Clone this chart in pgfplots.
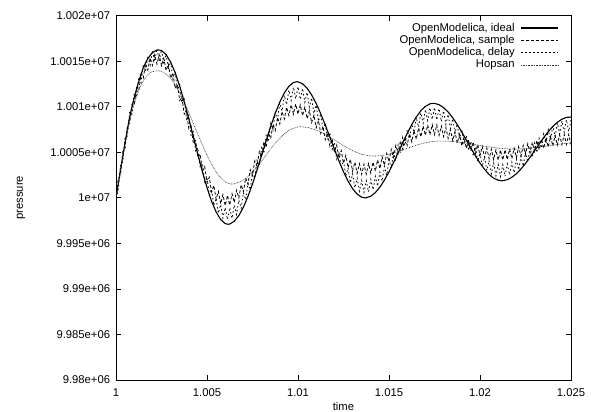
\documentclass[border=0pt]{standalone}
\usepackage{fontspec}
\setmainfont{Liberation Sans}
\usepackage{pgfplots}
\pgfplotsset{compat=1.18}
% time in ms after t = 1 s, pressure as offset from 1e7 Pa
\begin{document}
\fontsize{11.3}{13}\selectfont
\begin{tikzpicture}
\useasboundingbox (0,0) rectangle (591bp,412bp);
\begin{axis}[
  at={(116bp,32bp)}, anchor=south west,
  scale only axis, width=455bp, height=364.3bp,
  xmin=0, xmax=25, ymin=-20000, ymax=20000,
  xtick={0,5,10,15,20,25},
  xticklabels={1,1.005,1.01,1.015,1.02,1.025},
  ytick={-20000,-15000,-10000,-5000,0,5000,10000,15000,20000},
  yticklabels={9.98e+06,9.985e+06,9.99e+06,9.995e+06,1e+07,1.0005e+07,1.001e+07,1.0015e+07,1.002e+07},
  tick align=inside, major tick length=5bp,
  axis line style={line width=0.9bp},
  every tick/.style={black, line width=0.8bp},
  xticklabel style={yshift=-5bp},
  yticklabel style={xshift=-2bp},
  scaled ticks=false,
  xlabel={time}, ylabel={pressure},
  xlabel style={at={(axis description cs:0.5,-0.0714)}, anchor=center},
  ylabel style={at={(axis description cs:-0.2088,0.5)}, anchor=center},
  legend style={draw=none, fill=none, at={(axis description cs:1,1)}, xshift=-12bp, yshift=-6bp, anchor=north east, row sep=0pt, inner sep=0pt, nodes={inner ysep=0.65bp, text height=8.5bp, text depth=2.5bp}},
  legend cell align=right,
  legend plot pos=right,
  legend image code/.code={\path (0bp,0bp); \draw[#1] (4bp,0bp) -- (41bp,0bp);},
]
% OpenModelica, ideal
\addplot[black, line width=1.1bp] table {
0 0
0.25 3100
0.5 6100
0.75 8900
1 11000
1.25 12800
1.5 14300
1.75 15300
2 15950
2.25 16220
2.36 16234
2.5 16170
2.75 15738
3 14919
3.25 13745
3.5 12270
3.75 10555
4 8674
4.25 6707
4.5 4736
4.75 2851
5 1128
5.25 -361
5.5 -1544
5.75 -2379
6 -2826
6.15 -2900
6.25 -2873
6.5 -2571
6.75 -1947
7 -1027
7.25 149
7.5 1531
7.75 3057
8 4665
8.25 6283
8.5 7844
8.75 9278
9 10525
9.25 11532
9.5 12255
9.75 12662
9.93 12750
10 12739
10.25 12522
10.5 12037
10.75 11303
11 10356
11.25 9234
11.5 7987
11.75 6669
12 5338
12.25 4053
12.5 2869
12.75 1839
13 1007
13.25 409
13.5 72
13.68 0
13.75 9
14 185
14.25 581
14.5 1178
14.75 1949
15 2863
15.25 3878
15.5 4951
15.75 6034
16 7080
16.25 8044
16.5 8883
16.75 9560
17 10047
17.25 10321
17.43 10380
17.5 10373
17.75 10229
18 9907
18.25 9420
18.5 8791
18.75 8047
19 7218
19.25 6343
19.5 5458
19.75 4603
20 3813
20.25 3125
20.5 2567
20.75 2164
21 1934
21.19 1880
21.25 1885
21.5 1997
21.75 2256
22 2652
22.25 3166
22.5 3775
22.75 4455
23 5176
23.25 5905
23.5 6611
23.75 7264
24 7835
24.25 8298
24.5 8636
24.75 8831
25 8877
};
\addlegendentry{OpenModelica, ideal}
% OpenModelica, sample
\addplot[black, line width=0.8bp, dash pattern=on 3bp off 2bp] table {
0 0
0.125 2090
0.25 2529
0.375 5098
0.5 5467
0.625 7918
0.75 8169
0.875 10261
1 10152
1.125 12084
1.25 11816
1.375 13592
1.5 13168
1.625 14696
1.75 14024
1.875 15380
2 14536
2.125 15709
2.25 14681
2.375 15696
2.5 14510
2.625 15348
2.75 13986
2.875 14667
3 13147
3.125 13687
3.25 12027
3.375 12456
3.5 10685
3.625 11034
3.75 9182
3.875 9485
4 7587
4.125 7882
4.25 5976
4.375 6295
4.5 4413
4.625 4790
4.75 2967
4.875 3431
5 1695
5.125 2272
5.25 648
5.375 1354
5.5 -140
5.625 707
5.75 -647
5.875 348
6 -857
6.125 274
6.25 -795
6.375 448
6.5 -509
6.625 841
6.75 -10
6.875 1430
7 669
7.125 2189
7.25 1509
7.375 3084
7.5 2458
7.625 4070
7.75 3481
7.875 5105
8 4528
8.125 6141
8.25 5553
8.375 7134
8.5 6515
8.625 8045
8.75 7375
8.875 8835
9 8094
9.125 9472
9.25 8649
9.375 9938
9.5 9026
9.625 10215
9.75 9203
9.875 10297
10 9191
10.125 10206
10.25 9021
10.375 9960
10.5 8699
10.625 9577
10.75 8255
10.875 9081
11 7706
11.125 8490
11.25 7074
11.375 7835
11.5 6396
11.625 7148
11.75 5699
11.875 6457
12 5015
12.125 5794
12.25 4373
12.375 5186
12.5 3799
12.625 4660
12.75 3321
12.875 4235
13 2949
13.125 3925
13.25 2700
13.375 3743
13.5 2586
13.625 3692
13.75 2598
13.875 3755
14 2712
14.125 3917
14.25 2922
14.375 4169
14.5 3216
14.625 4498
14.75 3579
14.875 4886
15 3993
15.125 5316
15.25 4439
15.375 5768
15.5 4897
15.625 6222
15.75 5346
15.875 6657
16 5767
16.125 7055
16.25 6143
16.375 7401
16.5 6459
16.625 7680
16.75 6701
16.875 7883
17 6864
17.125 8003
17.25 6941
17.375 8037
17.5 6933
17.625 7993
17.75 6853
17.875 7883
18 6712
18.125 7715
18.25 6517
18.375 7498
18.5 6279
18.625 7244
18.75 6009
18.875 6965
19 5721
19.125 6674
19.25 5427
19.375 6384
19.5 5141
19.625 6108
19.75 4874
19.875 5856
20 4638
20.125 5639
20.25 4439
20.375 5465
20.5 4290
20.625 5341
20.75 4192
20.875 5270
21 4148
21.125 5253
21.25 4158
21.375 5283
21.5 4208
21.625 5354
21.75 4300
21.875 5461
22 4422
22.125 5596
22.25 4570
22.375 5755
22.5 4740
22.625 5929
22.75 4918
22.875 6109
23 5099
23.125 6287
23.25 5275
23.375 6457
23.5 5438
23.625 6610
23.75 5581
23.875 6741
24 5700
24.125 6845
24.25 5790
24.375 6918
24.5 5846
24.625 6959
24.75 5871
24.875 6968
25 5865
};
\addlegendentry{OpenModelica, sample}
% OpenModelica, delay
\addplot[black, line width=0.8bp, dash pattern=on 1.5bp off 2.5bp] table {
0 0
0.125 895
0.25 3739
0.375 3924
0.5 6709
0.625 6784
0.75 9459
0.875 9180
1 11500
1.125 11067
1.25 13234
1.375 12647
1.5 14660
1.625 13824
1.75 15587
1.875 14578
2 16168
2.125 14972
2.25 16375
2.375 15023
2.5 16270
2.625 14741
2.75 15812
2.875 14099
3 14985
3.125 13116
3.25 13847
3.375 11844
3.5 12441
3.625 10335
3.75 10829
3.875 8655
4 9080
4.125 6878
4.25 7275
4.375 5081
4.5 5487
4.625 3342
4.75 3796
4.875 1735
5 2273
5.125 323
5.25 973
5.375 -835
5.5 -42
5.625 -1687
5.75 -731
5.875 -2206
6 -1080
6.125 -2384
6.25 -1087
6.375 -2243
6.5 -799
6.625 -1821
6.75 -243
6.875 -1136
7 572
7.125 -213
7.25 1601
7.375 899
7.5 2796
7.625 2153
7.75 4110
7.875 3498
8 5485
8.125 4873
8.25 6860
8.375 6219
8.5 8177
8.625 7478
8.75 9378
8.875 8599
9 10419
9.125 9534
9.25 11248
9.375 10244
9.5 11840
9.625 10700
9.75 12159
9.875 10881
10 12202
10.125 10806
10.25 12009
10.375 10499
10.5 11589
10.625 9979
10.75 10968
10.875 9275
11 10181
11.125 8417
11.25 9252
11.375 7440
11.5 8228
11.625 6392
11.75 7155
11.875 5316
12 6077
12.125 4261
12.25 5044
12.375 3270
12.5 4096
12.625 2389
12.75 3281
12.875 1656
13 2630
13.125 1097
13.25 2164
13.375 739
13.5 1913
13.625 597
13.75 1881
13.875 656
14 2031
14.125 892
14.25 2353
14.375 1292
14.5 2831
14.625 1837
14.75 3442
14.875 2502
15 4162
15.125 3260
15.25 4957
15.375 4075
15.5 5792
15.625 4912
15.75 6631
15.875 5734
16 7437
16.125 6507
16.25 8176
16.375 7196
16.5 8815
16.625 7771
16.75 9326
16.875 8208
17 9690
17.125 8490
17.25 9890
17.375 8606
17.5 9921
17.625 8562
17.75 9803
17.875 8375
18 9547
18.125 8058
18.25 9169
18.375 7630
18.5 8690
18.625 7108
18.75 8126
18.875 6515
19 7504
19.125 5878
19.25 6852
19.375 5225
19.5 6198
19.625 4584
19.75 5570
19.875 3982
20 4994
20.125 3446
20.25 4497
20.375 2999
20.5 4100
20.625 2657
20.75 3814
20.875 2437
21 3659
21.125 2345
21.25 3631
21.375 2375
21.5 3719
21.625 2514
21.75 3909
21.875 2753
22 4196
22.125 3083
22.25 4569
22.375 3488
22.5 5006
22.625 3949
22.75 5492
22.875 4449
23 6006
23.125 4965
23.25 6524
23.375 5474
23.5 7024
23.625 5955
23.75 7485
23.875 6385
24 7885
24.125 6747
24.25 8209
24.375 7027
24.5 8444
24.625 7210
24.75 8575
24.875 7290
25 8604
};
\addlegendentry{OpenModelica, delay}
% Hopsan
\addplot[black!80, line width=0.6bp, dash pattern=on 0.8bp off 0.8bp, smooth, tension=0.5] table {
0 0
0.25 3000
0.5 5900
0.75 8400
1 10300
1.25 11800
1.5 12850
1.75 13500
2 13850
2.32 13956
2.5 13896
3 13107
3.5 11517
4 9362
4.5 6964
5 4682
5.5 2856
6 1757
6.36 1515
6.5 1537
7 1956
7.5 2844
8 4046
8.5 5354
9 6542
9.5 7405
10 7794
10.11 7807
10.5 7734
11 7436
11.5 6952
12 6355
12.5 5735
13 5184
13.5 4786
14 4599
14.14 4590
14.5 4629
15 4805
15.5 5091
16 5435
16.5 5776
17 6051
17.5 6211
17.8 6237
18 6233
18.5 6176
19 6065
19.5 5915
20 5747
20.5 5588
21 5458
21.5 5379
21.9 5358
22.5 5404
23 5506
23.5 5644
24 5794
24.5 5926
25 6018
};
\addlegendentry{Hopsan}
\end{axis}
\end{tikzpicture}
\end{document}
